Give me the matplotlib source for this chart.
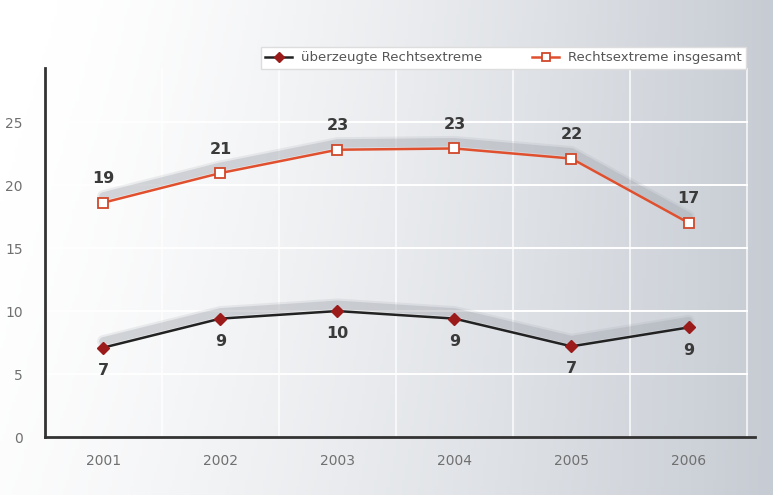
import matplotlib
matplotlib.use("Agg")
import matplotlib.pyplot as plt
import numpy as np

years = [2001, 2002, 2003, 2004, 2005, 2006]
insgesamt = [18.6, 20.95, 22.8, 22.9, 22.1, 17.0]
ueberzeugt = [7.1, 9.4, 10.0, 9.4, 7.2, 8.7]
labels_insgesamt = ["19", "21", "23", "23", "22", "17"]
labels_ueberzeugt = ["7", "9", "10", "9", "7", "9"]
yticks = [0, 5, 10, 15, 20, 25]

fig = plt.figure(figsize=(7.73, 4.95), dpi=100)

# gradient background over the whole figure
bg = fig.add_axes([0, 0, 1, 1], zorder=-10)
gx = np.linspace(0, 1, 256)
gy = np.linspace(0, 1, 64)
X, Y = np.meshgrid(gx, gy)
t = np.clip(0.12 + 0.88 * X - 0.2 * (1 - Y) * (1 - X), 0, 1) ** 1.4
c0 = np.array([1.0, 1.0, 1.0])
c1 = np.array([0.78, 0.80, 0.83])
img = c0 + (c1 - c0) * t[..., None]
bg.imshow(img, aspect="auto", extent=[0, 1, 0, 1], origin="upper")
bg.axis("off")

ax = fig.add_axes([0.058, 0.117, 0.919, 0.746])
ax.patch.set_alpha(0)
ax.set_xlim(2000.5, 2006.57)
ax.set_ylim(0, 29.3)

for v in yticks[1:]:
    ax.plot([2000.5, 2006.5], [v, v], color="white", lw=1.4, zorder=1)
for xv in [2001.5, 2002.5, 2003.5, 2004.5, 2005.5, 2006.5]:
    ax.axvline(xv, color="white", lw=1.1, alpha=0.9, zorder=1)

# soft shadows behind the lines
for lw, a in [(9, 0.18), (6, 0.35)]:
    ax.plot(years, [v + 0.5 for v in insgesamt], color="#a3a7af",
            lw=lw, alpha=a, solid_capstyle="round", zorder=2)
    ax.plot(years, [v + 0.5 for v in ueberzeugt], color="#a3a7af",
            lw=lw, alpha=a, solid_capstyle="round", zorder=2)

ax.plot(years, insgesamt, color="#e0502e", lw=1.8, marker="s", ms=7,
        mfc="white", mec="#d0482a", mew=1.3, zorder=4,
        label="Rechtsextreme insgesamt")
ax.plot(years, ueberzeugt, color="#222222", lw=1.8, marker="D", ms=6.5,
        mfc="#9b1b1b", mec="#9b1b1b", zorder=4,
        label="überzeugte Rechtsextreme")

for x, v, s in zip(years, insgesamt, labels_insgesamt):
    ax.text(x, v + 1.3, s, ha="center", va="bottom", fontsize=11.5,
            fontweight="bold", color="#3a3a3a", zorder=5)
for x, v, s in zip(years, ueberzeugt, labels_ueberzeugt):
    ax.text(x, v - 1.2, s, ha="center", va="top", fontsize=11.5,
            fontweight="bold", color="#3a3a3a", zorder=5)

ax.set_yticks(yticks)
ax.set_xticks(years)
ax.tick_params(length=0, labelsize=10, labelcolor="#707070")
ax.tick_params(axis="y", pad=16)
ax.tick_params(axis="x", pad=12)
for s in ["top", "right"]:
    ax.spines[s].set_visible(False)
for s in ["left", "bottom"]:
    ax.spines[s].set_color("#333333")
    ax.spines[s].set_linewidth(2)

handles, labs = ax.get_legend_handles_labels()
leg = ax.legend(handles[::-1], labs[::-1], loc="upper right", ncol=2,
                bbox_to_anchor=(0.997, 1.075), frameon=True, fancybox=False,
                fontsize=9.5, handlelength=2.0, columnspacing=3.8,
                borderpad=0.35, handletextpad=0.7, markerscale=0.8)
leg.get_frame().set_edgecolor("#dddddd")
leg.get_frame().set_facecolor("white")
leg.get_frame().set_alpha(1)
for t_ in leg.get_texts():
    t_.set_color("#555555")

fig.savefig("out.png", dpi=100)
